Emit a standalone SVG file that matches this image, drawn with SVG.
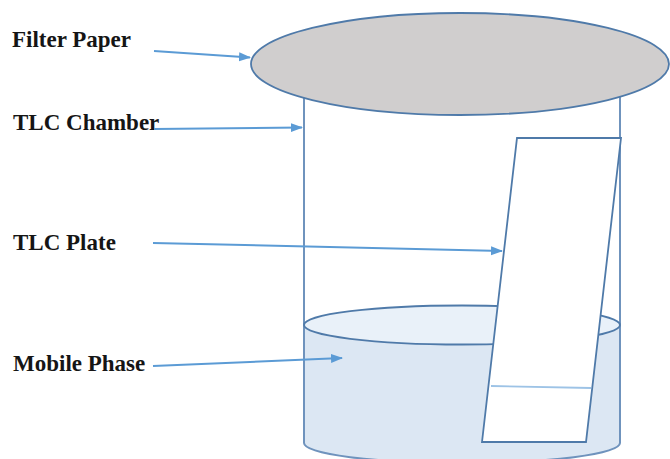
<svg xmlns="http://www.w3.org/2000/svg" width="670" height="459" viewBox="0 0 670 459">
  <style>
    .label { font-family: "Liberation Serif", "Times New Roman", serif; font-weight: bold; font-size: 23px; fill: #151515; }
    .wall { stroke: #6f93bd; stroke-width: 2; fill: none; }
    .edge { stroke: #4f7aa9; stroke-width: 1.8; }
    .pointer { stroke: #5b9bd5; stroke-width: 2; fill: none; marker-end: url(#head); }
  </style>
  <defs>
    <marker id="head" markerUnits="userSpaceOnUse" markerWidth="12" markerHeight="10" refX="11" refY="4.5" orient="auto">
      <path d="M0,0 L12,4.5 L0,9 z" fill="#5b9bd5"/>
    </marker>
  </defs>
  <rect width="670" height="459" fill="#ffffff"/>

  <!-- beaker walls -->
  <g id="chamber">
    <line class="wall" x1="304" y1="95" x2="304" y2="443"/>
    <line class="wall" x1="620" y1="95" x2="620" y2="443"/>
  </g>

  <!-- solvent pool inside the beaker -->
  <g id="mobile-phase">
    <path d="M304,325 L304,443 A158,20 0 0 0 620,443 L620,325 A158,19.5 0 0 1 304,325 Z" fill="#dce7f3" stroke="none"/>
    <path d="M304,325 L304,443 A158,20 0 0 0 620,443 L620,325" class="wall"/>
    <ellipse cx="462" cy="325" rx="158" ry="19.5" fill="#e9f1f9" class="edge"/>
  </g>

  <!-- slanted plate standing in the solvent -->
  <g id="tlc-plate">
    <polygon points="517,138 621,138 586,442 482,442" fill="#ffffff" class="edge" stroke-linejoin="miter"/>
    <line x1="491" y1="386" x2="591" y2="388" stroke="#9dc3e6" stroke-width="1.8"/>
  </g>

  <!-- lid -->
  <g id="filter-paper">
    <ellipse cx="460" cy="64" rx="209" ry="51" fill="#d0cece" class="edge"/>
  </g>

  <!-- labels -->
  <g id="labels">
    <text class="label" x="12" y="47">Filter Paper</text>
    <text class="label" x="13" y="130">TLC Chamber</text>
    <text class="label" x="13" y="250">TLC Plate</text>
    <text class="label" x="13" y="371">Mobile Phase</text>
  </g>

  <!-- pointers -->
  <g id="connectors">
    <line class="pointer" x1="154" y1="51" x2="250" y2="57.5"/>
    <line class="pointer" x1="154" y1="129" x2="302" y2="127.5"/>
    <line class="pointer" x1="153" y1="243" x2="502" y2="251"/>
    <line class="pointer" x1="153" y1="366" x2="342" y2="358"/>
  </g>
</svg>
